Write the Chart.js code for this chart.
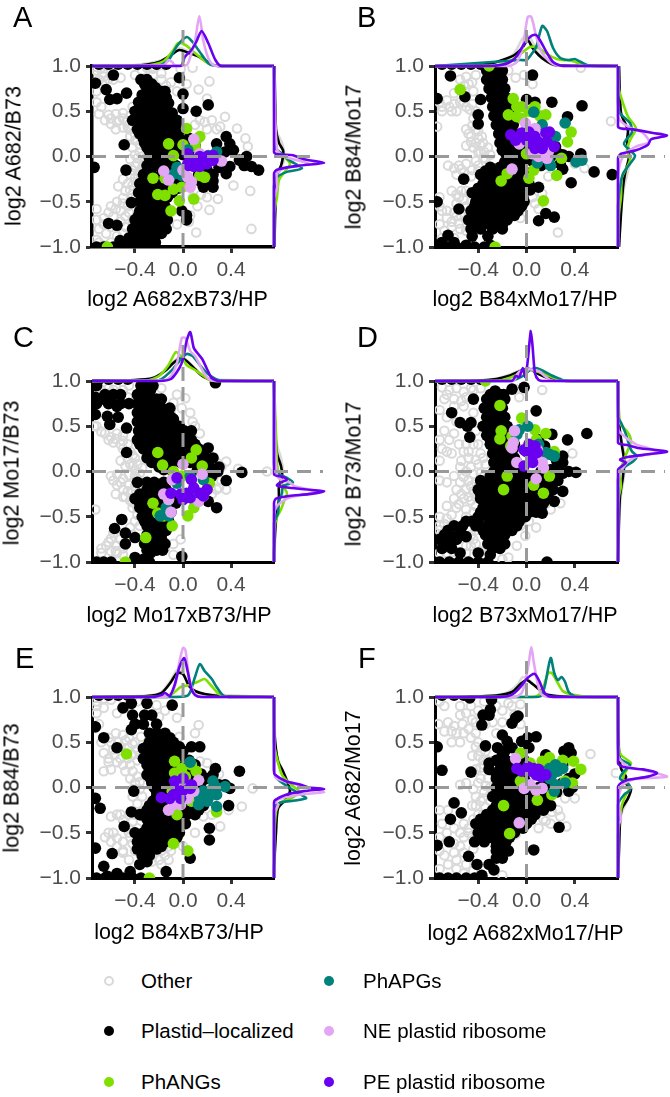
<!DOCTYPE html>
<html>
<head>
<meta charset="utf-8">
<title>log2 ratios</title>
<script src="https://cdn.jsdelivr.net/npm/chart.js@4"></script>
<style>
html, body { margin: 0; padding: 0; background: #fff; }
#page { position: relative; width: 670px; height: 1097px; overflow: hidden; font-family: "Liberation Sans", sans-serif; }
canvas { position: absolute; }
.lab { position: absolute; white-space: nowrap; color: #000; }
.dot { position: absolute; border-radius: 50%; box-sizing: border-box; }
</style>
</head>
<body>
<div id="page"></div>
<script>
const letters = ["A", "B", "C", "D", "E", "F"];
const xTitles = ["log2 A682xB73/HP", "log2 B84xMo17/HP", "log2 Mo17xB73/HP", "log2 B73xMo17/HP", "log2 B84xB73/HP", "log2 A682xMo17/HP"];
const yTitles = ["log2 A682/B73", "log2 B84/Mo17", "log2 Mo17/B73", "log2 B73/Mo17", "log2 B84/B73", "log2 A682/Mo17"];
const groups = ["Other", "Plastid\u2013localized", "PhANGs", "PhAPGs", "NE plastid ribosome", "PE plastid ribosome"];
const xTicks = [-0.4, 0, 0.4];
const yTicks = [-1, -0.5, 0, 0.5, 1];

// panel A
const otherA = [[-.72,.95],[-.66,.92],[-.6,.95],[-.7,.85],[-.65,.83],[-.58,.85],[-.52,.87],[-.72,.72],[-.68,.55],[-.7,.47],[-.65,.4],[-.6,.42],[-.56,.47],[-.5,.48],[-.53,.4],[-.47,.38],[-.5,.32],[-.44,.45],[-.42,.55],[-.45,.3],[-.4,.25],[-.44,.22],[-.38,.18],[-.42,.1],[-.36,.05],[-.4,.02],[-.44,-.03],[-.38,-.08],[-.42,-.15],[-.36,-.18],[-.4,-.24],[-.5,-.25],[-.46,-.3],[-.42,-.32],[-.54,-.33],[-.48,-.38],[-.42,-.42],[-.5,-.46],[-.55,-.5],[-.46,-.55],[-.6,-.55],[-.52,-.6],[-.45,-.62],[-.72,-.58],[-.66,-.68],[-.58,-.66],[-.52,-.72],[-.7,-.8],[-.64,-.85],[-.72,-.92],[-.6,-.95],[-.55,-.88],[-.48,-.78],[-.42,-.7],[-.3,.98],[-.18,.92],[-.1,.82],[-.05,.72],[-.25,.9],[-.02,.97],[.08,.98],[.03,.8],[.22,.83],[.13,.74],[.2,.64],[.14,.4],[.35,.44],[.31,.33],[.45,.31],[.52,.2],[.54,.11],[.28,.3],[.42,-.32],[.56,-.38],[.2,-.45],[.29,-.47],[.22,-.59],[.11,-.84],[.57,-.8],[.05,-.72],[.12,-.55],[-.05,-.75],[-.6,.36],[-.56,.3],[-.62,.46],[-.55,.38],[-.5,.42],[-.46,.33],[-.42,.34],[-.4,.18],[-.36,.13],[-.34,0],[-.32,-.05],[-.3,-.1],[-.34,-.12],[-.38,-.02],[-.4,-.1],[-.44,-.2],[-.38,-.28],[-.44,-.37],[-.4,-.47],[-.5,-.52],[-.56,-.58],[-.48,-.66],[-.42,-.76],[-.66,-.75],[-.6,-.78],[-.62,-.62],[-.56,-.75],[-.5,-.85],[-.72,-.7],[-.7,-.95],[-.66,-.98],[-.74,.9],[-.68,.98],[-.72,.6],[-.66,.88],[-.62,.86],[-.4,.9],[-.34,.95],[-.25,.97],[-.18,.85],[-.14,.78],[.1,.35],[.18,.38],[.24,.4],[.2,.3],[.06,-.65],[.08,-.45],[.15,-.42]];
const plastidA = [[-.58,.9],[-.73,.81],[-.64,.74],[-.61,.63],[-.55,.64],[-.47,.7],[-.03,.87],[0,.69],[.21,.57],[.11,.5],[0,.53],[-.49,.13],[-.475,-.15],[-.74,-.12],[-.43,-.51],[-.62,-.74],[-.55,-.76],[-.41,-.84],[-.525,-.93],[-.3,.85],[-.35,.85],[-.3,.75],[-.23,.76],[-.15,.72],[-.34,.68],[-.26,.68],[-.16,.68],[-.37,.6],[-.28,.6],[-.2,.6],[-.12,.59],[-.4,.5],[-.32,.5],[-.25,.5],[-.17,.5],[-.09,.48],[-.42,.4],[-.34,.4],[-.27,.4],[-.2,.4],[-.12,.4],[-.05,.4],[-.38,.3],[-.3,.3],[-.23,.3],[-.16,.3],[-.08,.3],[-.02,.3],[-.33,.2],[-.25,.2],[-.18,.2],[-.1,.2],[-.03,.2],[.05,.2],[-.3,.1],[-.22,.1],[-.14,.1],[-.06,.1],[-.24,.02],[-.16,.02],[-.08,.02],[.36,.22],[.28,.14],[.39,.14],[.42,.07],[.53,0],[.47,-.04],[.57,-.11],[.63,-.15],[.51,-.1],[.39,-.11],[.36,-.19],[.3,-.12],[.25,-.34],[.17,-.34],[.25,-.2],[-.33,-.2],[-.26,-.2],[-.18,-.2],[-.1,-.2],[-.02,-.2],[-.36,-.3],[-.29,-.3],[-.22,-.3],[-.15,-.3],[-.07,-.3],[.02,-.3],[-.37,-.4],[-.3,-.4],[-.23,-.4],[-.16,-.4],[-.09,-.4],[-.36,-.5],[-.3,-.5],[-.24,-.5],[-.17,-.5],[-.36,-.6],[-.3,-.6],[-.24,-.6],[-.18,-.6],[-.01,-.6],[-.4,-.7],[-.33,-.7],[-.27,-.7],[-.2,-.7],[-.13,-.7],[.03,-.7],[.03,-.65],[-.42,-.8],[-.35,-.8],[-.28,-.8],[-.21,-.8],[-.14,-.8],[-.45,-.9],[-.38,-.9],[-.3,-.9],[-.24,-.9],[-.72,-1],[-.66,-1],[-.58,-1],[-.5,-1],[-.42,-1],[-.35,-1],[-.28,-1],[-.7,1.02],[-.62,1.02],[-.54,1.02],[-.46,1.02],[-.38,1.02],[-.3,1.02],[-.22,1.02],[-.14,1.02],[-.36,.45],[-.28,.45],[-.21,.45],[-.13,.45],[-.34,.35],[-.26,.35],[-.19,.35],[-.12,.35],[-.05,.35],[-.36,.25],[-.28,.25],[-.21,.25],[-.14,.25],[-.06,.25],[-.32,.15],[-.26,.15],[-.18,.15],[-.1,.15],[-.02,.15],[-.28,.06],[-.2,.06],[-.12,.06],[-.04,.06],[-.33,.55],[-.24,.55],[-.16,.55],[-.3,.65],[-.21,.65],[-.14,.65],[-.27,.72],[-.19,.72],[-.32,.8],[-.26,.8],[-.28,-.02],[-.2,-.02],[-.12,-.02],[-.3,-.1],[-.22,-.1],[-.14,-.1],[-.06,-.1],[-.28,-.25],[-.32,-.25],[-.22,-.25],[-.14,-.25],[-.06,-.25],[0,-.25],[-.33,-.35],[-.26,-.35],[-.19,-.35],[-.12,-.35],[-.04,-.35],[-.33,-.45],[-.27,-.45],[-.2,-.45],[-.13,-.45],[-.33,-.55],[-.27,-.55],[-.21,-.55],[-.15,-.55],[-.37,-.65],[-.3,-.65],[-.23,-.65],[-.16,-.65],[-.38,-.75],[-.31,-.75],[-.24,-.75],[-.17,-.75],[-.4,-.85],[-.32,-.85],[-.26,-.85],[-.18,-.85],[-.45,-.95],[-.38,-.95],[-.3,-.95],[-.23,-.95],[.1,.05],[.3,0],[.35,.05],[.32,-.08],[.2,-.15],[.13,-.2],[.25,-.27],[.15,-.28],[.2,-.3],[.1,.12],[.06,.12],[0,.02],[.06,.02]];
const phangsA = [[.03,.31],[-.12,.14],[.14,.22],[0,.13],[-.08,.01],[-.25,-.24],[-.21,-.42],[-.15,-.43],[-.03,-.49],[.09,-.47],[-.1,-.6],[-.08,-.36],[.18,-.23],[.1,.11],[-.63,-1],[.11,.18],[-.15,-.24],[-.01,-.34],[.14,-.21]];
const phapgsA = [[-.02,-.15],[-.07,-.19],[-.11,-.23],[-.05,-.12],[.04,.07],[.28,.05],[.21,.01],[-.01,-.21]];
const neA = [[.09,.19],[-.16,-.16],[-.12,-.26],[.04,-.23],[.06,-.34],[.14,.03],[.32,-.05],[0,-.15],[.07,-.28]];
const peA = [[.04,.03],[.04,-.08],[.09,-.11],[.14,-.11],[.2,-.08],[.25,-.04],[.14,0],[.2,0],[.25,.01],[.09,-.04],[.17,-.04],[.05,-.1]];

// panel B
const otherB = [[-.55,.85],[-.5,.88],[-.45,.82],[-.42,.9],[-.72,.6],[-.66,.62],[-.6,.58],[-.55,.6],[-.5,.55],[-.45,.58],[-.42,.5],[-.7,.5],[-.62,.5],[-.74,.33],[-.5,.3],[-.45,.34],[-.4,.28],[-.46,.22],[-.42,.15],[-.37,.22],[-.5,.12],[-.44,.1],[-.38,.12],[-.4,.05],[-.35,.05],[-.36,-.02],[-.65,-.1],[-.6,-.13],[-.58,-.2],[-.54,-.14],[-.5,-.08],[-.45,-.15],[-.42,-.05],[-.62,-.38],[-.56,-.45],[-.5,-.38],[-.46,-.5],[-.58,-.52],[-.72,-.45],[-.7,-.6],[-.72,-.75],[-.68,-.82],[-.66,-.68],[-.62,-.72],[-.58,-.66],[-.55,-.8],[-.5,-.7],[-.6,-.9],[-.09,.87],[-.15,.95],[-.02,.9],[.45,.98],[.7,.39],[.26,-.84],[.4,-.08],[.48,-.13],[.07,-.52],[.13,-.41],[.18,-.22],[.14,.14],[.05,-.45],[.1,-.58],[-.05,-.68],[.28,-.03],[.05,.8],[-.7,.55],[-.64,.55],[-.58,.5],[-.52,.6],[-.47,.52],[-.44,.42],[-.42,.3],[-.48,.25],[-.46,.16],[-.4,.2],[-.36,.15],[-.38,.05],[-.32,.1],[-.34,-.02],[-.3,.02],[-.4,-.1],[-.56,-.1],[-.52,-.18],[-.46,-.22],[-.4,-.16],[-.58,-.42],[-.52,-.48],[-.5,-.55],[-.54,-.38],[-.66,-.6],[-.6,-.62],[-.54,-.66],[-.62,-.78],[-.56,-.74],[-.5,-.82],[-.72,-.55],[-.7,-.9],[-.6,.7],[-.48,.8],[-.52,.78],[-.44,.72]];
const plastidB = [[.05,.9],[-.63,.89],[-.74,.64],[-.51,.66],[-.38,.63],[-.4,.46],[-.4,.36],[.21,.6],[.46,.56],[.34,.44],[0,.63],[.07,.6],[-.52,-.25],[-.74,-.5],[-.56,-.58],[.1,-.71],[.16,-.63],[.23,-.67],[.37,-.29],[.56,-.17],[.71,-.2],[.45,.03],[.3,-.14],[-.65,-.87],[.03,-.37],[.1,-.34],[.35,0],[.24,.11],[-.33,.95],[-.27,.95],[-.2,.95],[-.33,.85],[-.27,.85],[-.2,.85],[-.31,.75],[-.25,.75],[-.18,.75],[-.29,.65],[-.23,.65],[-.17,.65],[-.28,.55],[-.21,.55],[-.15,.55],[-.27,.45],[-.2,.45],[-.13,.45],[-.25,.35],[-.18,.35],[-.11,.35],[-.23,.25],[-.16,.25],[-.1,.25],[-.22,.15],[-.14,.15],[-.07,.15],[-.2,.07],[-.12,.07],[-.05,.07],[.02,.07],[-.15,0],[-.08,0],[0,0],[-.3,-.12],[-.22,-.12],[-.15,-.12],[-.07,-.12],[-.38,-.2],[-.3,-.2],[-.22,-.2],[-.14,-.2],[-.06,-.2],[-.36,-.3],[-.28,-.3],[-.2,-.3],[-.12,-.3],[-.04,-.3],[.02,-.3],[-.45,-.4],[-.38,-.4],[-.3,-.4],[-.22,-.4],[-.14,-.4],[-.06,-.4],[-.42,-.5],[-.33,-.5],[-.25,-.5],[-.17,-.5],[-.09,-.5],[-.02,-.5],[-.46,-.6],[-.38,-.6],[-.3,-.6],[-.22,-.6],[-.14,-.6],[-.07,-.6],[-.48,-.7],[-.4,-.7],[-.32,-.7],[-.24,-.7],[-.16,-.7],[-.46,-.8],[-.38,-.8],[-.28,-.8],[-.2,-.8],[-.72,-1],[-.65,-1],[-.58,-1],[-.5,-.98],[-.43,-1],[-.35,-1],[-.3,-.98],[.15,-.02],[.2,0],[.25,.05],[.3,.02],[.28,-.08],[.12,-.1],[.05,-.05],[-.7,1.02],[-.62,1.02],[-.54,1.02],[-.46,1.02],[-.38,1.02],[-.3,1.02],[-.22,1.02],[-.3,.9],[-.23,.9],[-.3,.8],[-.23,.8],[-.28,.7],[-.21,.7],[-.26,.6],[-.19,.6],[-.24,.5],[-.17,.5],[-.22,.4],[-.15,.4],[-.2,.3],[-.13,.3],[-.18,.2],[-.12,.2],[-.16,.11],[-.09,.11],[-.17,.03],[-.1,.03],[-.03,.03],[-.18,-.06],[-.1,-.06],[-.03,-.06],[-.34,-.16],[-.26,-.16],[-.18,-.16],[-.1,-.16],[-.02,-.16],[-.33,-.25],[-.25,-.25],[-.17,-.25],[-.09,-.25],[-.01,-.25],[-.4,-.35],[-.32,-.35],[-.24,-.35],[-.16,-.35],[-.08,-.35],[-.01,-.35],[-.4,-.45],[-.34,-.45],[-.26,-.45],[-.18,-.45],[-.1,-.45],[-.03,-.45],[-.43,-.55],[-.35,-.55],[-.27,-.55],[-.19,-.55],[-.11,-.55],[-.04,-.55],[-.42,-.65],[-.34,-.65],[-.26,-.65],[-.18,-.65],[-.1,-.65],[-.44,-.75],[-.36,-.75],[-.28,-.75],[-.2,-.75],[-.7,-.95],[-.6,-.95],[-.45,-.88],[-.32,-.88]];
const phangsB = [[-.55,.74],[-.31,1],[-.11,.64],[-.15,.46],[-.08,.44],[-.04,.55],[.07,.55],[.16,.46],[.02,.5],[.37,.27],[.34,.16],[.25,-.21],[.14,-.49],[.02,-.24],[.06,-.15],[-.21,-.27],[-.16,-.19],[.29,-.02],[-.26,-1],[0,.03],[-.08,.55],[.11,.45],[-.04,.42]];
const phapgsB = [[.06,.49],[.32,.37],[.13,.35],[.24,.22],[.09,-.07],[.2,-.1],[.41,-.06],[.46,-.04],[.18,-.04]];
const neB = [[-.12,-.14],[-.01,.37],[.07,.31],[.05,.03],[.1,0],[.17,-.02],[-.06,.14],[.18,.05]];
const peB = [[-.13,.24],[-.09,.18],[-.04,.26],[.02,.27],[.07,.22],[.05,.14],[.1,.16],[.16,.26],[.17,.16],[.23,.11],[0,.18],[.07,.09],[.13,.09],[.19,.27]];

// panel C
const otherC = [[-.72,.95],[-.68,.9],[-.62,.92],[-.56,.95],[-.5,.9],[-.7,.84],[-.45,.95],[-.46,.82],[-.72,.5],[-.65,.42],[-.6,.38],[-.55,.42],[-.5,.4],[-.58,.32],[-.52,.3],[-.5,.25],[-.46,.14],[-.42,.18],[-.52,.12],[-.48,.06],[-.42,.06],[-.38,.08],[-.6,-.05],[-.55,-.03],[-.5,-.08],[-.45,-.04],[-.4,-.05],[-.55,-.15],[-.5,-.2],[-.45,-.15],[-.42,-.22],[-.38,-.08],[-.56,-.25],[-.48,-.28],[-.44,-.32],[-.42,-.4],[-.38,-.48],[-.36,-.38],[-.73,-.42],[-.58,-.68],[-.62,-.78],[-.68,-.85],[-.6,-.88],[-.55,-.82],[-.52,-.75],[-.44,-.62],[-.5,-.92],[.02,.81],[-.18,.92],[-.2,.68],[-.08,.76],[-.05,.85],[.06,.65],[-.01,.7],[-.1,.68],[.36,.11],[.32,.05],[.46,.03],[.7,0],[.28,-.2],[.36,-.2],[-.08,-.92],[-.02,-.75],[-.08,-.8],[-.15,-.85],[-.7,.92],[-.64,.95],[-.58,.9],[-.74,.5],[-.68,.44],[-.62,.35],[-.56,.36],[-.5,.34],[-.46,.3],[-.44,.22],[-.4,.15],[-.44,.08],[-.4,.02],[-.36,-.02],[-.34,.04],[-.52,-.12],[-.46,-.22],[-.4,-.16],[-.58,-.1],[-.5,-.28],[-.4,-.28],[-.42,-.34],[-.38,-.4],[-.4,-.55],[-.36,-.6],[-.42,-.7],[-.56,-.88],[-.64,-.82],[-.6,-.74],[-.55,-.9],[-.68,-.9],[-.5,-.85],[.1,.5],[.14,.42],[.08,.55],[.2,.1],[.28,.1],[.32,-.1],[.3,-.18],[.24,-.25]];
const plastidC = [[-.72,.95],[-.35,.95],[-.3,.95],[-.25,.95],[-.65,.85],[-.58,.85],[-.52,.85],[-.38,.85],[-.3,.85],[-.22,.8],[-.72,.75],[-.62,.75],[-.52,.75],[-.45,.75],[-.38,.75],[-.3,.75],[-.22,.75],[-.15,.68],[-.61,.52],[-.73,.63],[-.63,.61],[-.54,.6],[-.47,.48],[-.38,.65],[-.3,.65],[-.22,.65],[-.14,.65],[-.08,.58],[-.38,.55],[-.3,.55],[-.22,.55],[-.14,.55],[-.07,.52],[-.37,.45],[-.3,.45],[-.23,.45],[-.15,.45],[-.07,.45],[.01,.45],[.07,.45],[-.38,.35],[-.3,.35],[-.23,.35],[-.15,.35],[-.08,.35],[0,.35],[.07,.35],[-.47,.21],[-.33,.25],[-.25,.25],[-.17,.25],[-.09,.25],[-.01,.25],[.06,.25],[.13,.25],[.21,.26],[-.3,.15],[-.22,.15],[-.14,.15],[-.06,.15],[.02,.15],[.1,.15],[.18,.15],[.25,.15],[-.2,.05],[-.13,.05],[.15,.05],[.22,.05],[.3,.05],[.49,-.01],[.36,-.1],[.29,0],[.24,-.05],[-.38,-.12],[-.3,-.2],[-.22,-.2],[-.14,-.2],[-.4,-.3],[-.33,-.3],[-.26,-.3],[-.18,-.3],[-.1,-.3],[-.36,-.4],[-.29,-.4],[-.22,-.4],[-.15,-.4],[-.34,-.5],[-.28,-.5],[-.2,-.5],[-.14,-.5],[-.3,-.6],[-.24,-.6],[-.17,-.6],[-.57,-.63],[-.51,-.53],[-.48,-.68],[-.48,-.8],[-.4,-.73],[-.3,-.7],[-.23,-.7],[-.18,-.7],[-.32,-.8],[-.26,-.8],[-.2,-.8],[-.15,-.8],[-.4,-.95],[-.33,-.97],[-.27,-.9],[-.01,-.94],[.21,-.33],[.28,-.4],[.27,.98],[-.72,-1],[-.66,-1],[-.6,-1],[-.35,-1],[-.28,-1],[-.73,.82],[-.7,1.02],[-.62,1.02],[-.54,1.02],[-.46,1.02],[-.34,.9],[-.27,.9],[-.6,.8],[-.34,.8],[-.26,.8],[-.18,.8],[-.34,.7],[-.26,.7],[-.18,.7],[-.11,.7],[-.34,.6],[-.26,.6],[-.18,.6],[-.1,.6],[-.34,.5],[-.26,.5],[-.18,.5],[-.1,.5],[-.03,.5],[-.34,.4],[-.26,.4],[-.19,.4],[-.11,.4],[-.03,.4],[.04,.4],[-.36,.3],[-.28,.3],[-.2,.3],[-.12,.3],[-.04,.3],[.03,.3],[.1,.3],[-.28,.2],[-.2,.2],[-.13,.2],[-.05,.2],[.03,.2],[.1,.2],[.17,.2],[-.26,.1],[-.18,.1],[-.1,.1],[-.02,.1],[.06,.1],[.14,.1],[.21,.1],[-.16,.02],[-.1,.02],[.12,.02],[.18,.02],[.26,.02],[-.36,-.25],[-.28,-.25],[-.2,-.25],[-.12,-.25],[-.36,-.35],[-.29,-.35],[-.22,-.35],[-.14,-.35],[-.06,-.35],[-.32,-.45],[-.24,-.45],[-.17,-.45],[-.1,-.45],[-.32,-.55],[-.24,-.55],[-.17,-.55],[-.12,-.55],[-.27,-.65],[-.2,-.65],[-.14,-.65],[-.3,-.75],[-.24,-.75],[-.18,-.75],[-.3,-.87],[-.22,-.87],[-.17,-.87],[-.3,-.12],[-.24,-.12],[-.16,-.12],[-.68,.8],[-.55,.72]];
const phangsC = [[-.21,.21],[-.17,.07],[.11,.24],[.07,.15],[.16,.06],[-.08,0],[.22,-.13],[-.25,-.35],[-.21,-.46],[-.09,-.6],[.04,-.49],[.09,-.4],[-.31,-.73],[-.48,-1],[-.16,-.49],[-.01,-.05],[.2,-.2]];
const phapgsC = [[-.19,-.49],[-.12,-.49],[-.05,-.13],[.06,-.05],[-.14,-.4],[.17,-.09]];
const neC = [[0,.08],[-.09,-.09],[.16,-.03],[-.16,-.25],[-.12,-.31],[-.1,-.45],[.13,-.33],[.17,-.27]];
const peC = [[-.05,-.07],[.07,-.09],[-.1,-.24],[-.02,-.25],[.03,-.24],[.09,-.18],[.14,-.24],[.2,-.2],[.17,-.27],[.06,-.29],[0,-.31]];

// panel D
const otherD = [[-.7,.93],[-.64,.9],[-.58,.92],[-.52,.88],[-.46,.92],[-.68,.8],[-.6,.8],[-.54,.78],[-.72,.68],[-.66,.6],[-.58,.55],[-.68,.45],[-.6,.42],[-.64,.35],[-.56,.3],[-.7,.25],[-.62,.2],[-.52,.22],[-.48,.15],[-.42,.13],[-.46,.05],[-.4,.08],[-.55,.05],[-.5,0],[-.44,-.03],[-.38,-.02],[-.6,-.05],[-.55,-.12],[-.48,-.1],[-.42,-.12],[-.58,-.2],[-.5,-.2],[-.44,-.22],[-.6,-.3],[-.52,-.3],[-.46,-.32],[-.66,-.38],[-.58,-.4],[-.5,-.42],[-.44,-.45],[-.72,-.5],[-.66,-.52],[-.72,-.65],[-.72,-.9],[-.6,-.92],[-.5,-.82],[-.46,-.7],[-.42,-.8],[-.38,-.88],[.13,.9],[-.09,.91],[-.06,.82],[.38,.2],[.2,-.42],[.08,-.62],[-.01,-.71],[-.08,-.82],[.16,-.36],[-.15,-.95],[-.05,-.6],[.02,-.55],[-.2,-.97],[.28,-.35],[-.66,.85],[-.6,.72],[-.52,.72],[-.5,.82],[-.44,.65],[-.42,.45],[-.4,.3],[-.5,.3],[-.44,.3],[-.38,.2],[-.54,.12],[-.48,.22],[-.36,.15],[-.34,.08],[-.36,-.06],[-.52,-.06],[-.46,-.16],[-.4,-.18],[-.54,-.25],[-.48,-.28],[-.42,-.28],[-.42,-.38],[-.56,-.36],[-.5,-.5],[-.62,-.48],[-.72,-.6],[-.68,-.58],[-.7,-.7],[-.66,-.9],[-.5,-.9],[-.46,-.82],[-.44,-.75],[-.42,-.65],[-.36,-.92],[-.6,-.98],[-.44,.9],[-.38,.92],[-.72,.35],[-.66,.22],[-.72,.12],[-.72,-.1],[-.66,-.12]];
const plastidD = [[-.62,.65],[-.44,.8],[-.55,.54],[-.46,.54],[-.47,.38],[-.49,.5],[-.02,.93],[.08,.67],[.34,.35],[.5,.42],[.21,.41],[.3,.17],[.41,-.01],[.3,-.22],[.23,-.33],[.13,-.46],[-.4,-.9],[-.3,-.92],[.17,-1],[-.26,.89],[-.19,.85],[-.12,.91],[-.33,.8],[-.26,.8],[-.18,.8],[-.35,.7],[-.28,.7],[-.2,.7],[-.33,.6],[-.26,.6],[-.18,.6],[-.36,.5],[-.3,.5],[-.23,.5],[-.16,.5],[-.33,.4],[-.26,.4],[-.2,.4],[-.3,.3],[-.24,.3],[-.17,.3],[-.28,.2],[-.2,.2],[-.13,.2],[-.27,.1],[-.2,.1],[-.13,.1],[-.27,0],[-.2,0],[-.13,0],[-.06,0],[-.38,-.1],[-.3,-.1],[-.22,-.1],[-.14,-.1],[-.06,-.1],[.02,-.1],[.1,-.1],[.18,-.1],[.26,-.1],[-.4,-.2],[-.32,-.2],[-.24,-.2],[-.16,-.2],[-.08,-.2],[0,-.2],[.08,-.2],[.16,-.2],[.22,-.2],[-.38,-.3],[-.3,-.3],[-.22,-.3],[-.14,-.3],[-.06,-.3],[.02,-.3],[.1,-.3],[.17,-.3],[-.36,-.4],[-.28,-.4],[-.2,-.4],[-.12,-.4],[-.04,-.4],[.04,-.4],[.12,-.4],[-.4,-.5],[-.32,-.5],[-.24,-.5],[-.16,-.5],[-.08,-.5],[-.01,-.5],[-.42,-.6],[-.32,-.6],[-.24,-.6],[-.16,-.6],[-.08,-.6],[-.34,-.7],[-.26,-.7],[-.18,-.7],[-.32,-.8],[-.24,-.8],[-.18,-.8],[-.6,-.6],[-.65,-.65],[-.55,-.65],[-.5,-.55],[-.53,-.6],[-.72,-.75],[-.65,-.78],[-.58,-.75],[-.5,-.72],[-.7,-.85],[-.62,-.85],[-.55,-.9],[-.45,-.55],[-.72,-1],[-.64,-1],[-.56,-1],[-.48,-1],[-.4,-1],[-.32,-1],[.12,0],[.2,.02],[.25,.05],[.3,-.02],[.35,0],[.15,-.07],[.25,.12],[.3,.1],[.22,.18],[.1,-.08],[.05,-.08],[.15,.28],[.2,.2],[.1,.35],[-.1,.3],[-.15,.2],[-.08,.1],[-.05,0],[-.7,1.02],[-.62,1.02],[-.54,1.02],[-.46,1.02],[-.38,1.02],[-.3,.85],[-.22,.85],[-.3,.75],[-.24,.75],[-.3,.65],[-.22,.65],[-.3,.55],[-.22,.55],[-.32,.45],[-.25,.45],[-.18,.45],[-.3,.35],[-.22,.35],[-.15,.35],[-.26,.25],[-.18,.25],[-.11,.25],[-.25,.15],[-.17,.15],[-.1,.15],[-.24,.05],[-.17,.05],[-.1,.05],[-.04,.05],[-.3,-.05],[-.22,-.05],[-.15,-.05],[-.08,-.05],[-.01,-.05],[.06,-.05],[.14,-.05],[.22,-.05],[-.36,-.15],[-.28,-.15],[-.2,-.15],[-.12,-.15],[-.04,-.15],[.04,-.15],[.12,-.15],[.2,-.15],[-.38,-.25],[-.3,-.25],[-.22,-.25],[-.14,-.25],[-.06,-.25],[.02,-.25],[.1,-.25],[.18,-.25],[-.34,-.35],[-.26,-.35],[-.18,-.35],[-.1,-.35],[-.02,-.35],[.06,-.35],[.14,-.35],[-.38,-.45],[-.3,-.45],[-.22,-.45],[-.14,-.45],[-.06,-.45],[.02,-.45],[.08,-.45],[-.4,-.55],[-.3,-.55],[-.22,-.55],[-.14,-.55],[-.06,-.55],[-.36,-.65],[-.28,-.65],[-.2,-.65],[-.12,-.65],[-.3,-.75],[-.22,-.75],[-.28,-.85],[-.22,-.85],[-.68,-.7],[-.62,-.72],[-.56,-.7]];
const phangsD = [[-.34,1],[-.22,.73],[-.04,.59],[-.21,.45],[-.22,.36],[.16,.42],[.07,.46],[.08,.35],[-.13,.28],[-.16,-.05],[-.19,-.2],[.14,-.24],[.06,-.15],[.19,-.05],[.23,.22],[-.12,.39]];
const phapgsD = [[-.06,.46],[.01,.5],[.1,.3],[.16,.21],[.23,.17],[.19,.19],[-.08,.41]];
const neD = [[-.1,.45],[-.11,.32],[-.08,.1],[-.12,.26],[.08,-.08],[.13,.1],[.14,.04],[.09,.24]];
const peD = [[-.02,.24],[.02,.3],[.06,.26],[.09,.21],[.05,.17],[-.02,.06],[.05,.1],[0,.22],[.07,.28]];

// panel E
const otherE = [[-.72,.95],[-.66,.98],[-.6,.97],[-.55,.82],[-.72,.82],[-.7,.7],[-.62,.55],[-.56,.6],[-.5,.58],[-.45,.55],[-.4,.5],[-.35,.56],[-.66,.38],[-.62,.32],[-.57,.36],[-.52,.45],[-.46,.44],[-.42,.36],[-.38,.3],[-.55,.28],[-.5,.25],[-.44,.25],[-.66,.18],[-.6,.2],[-.42,.18],[-.38,.12],[-.36,.06],[-.42,-.1],[-.38,-.18],[-.36,-.02],[-.45,-.3],[-.55,-.3],[-.6,-.32],[-.5,-.36],[-.45,-.45],[-.65,-.55],[-.6,-.6],[-.55,-.65],[-.5,-.6],[-.45,-.5],[-.4,-.7],[-.35,-.75],[-.3,-.7],[-.2,-.65],[-.25,-.75],[-.2,-.8],[-.15,-.75],[-.1,-.7],[-.08,-.6],[0,-.65],[-.5,-.72],[-.45,-.8],[.13,.69],[.1,.6],[-.03,.56],[-.05,.77],[-.22,.91],[-.15,.85],[-.2,.78],[.2,.27],[.14,.29],[.49,-.21],[.58,-.01],[.31,-.43],[.17,-.32],[.24,-.3],[.3,.15],[.38,-.25],[.1,-.5],[-.68,.5],[-.6,.5],[-.54,.5],[-.48,.52],[-.42,.48],[-.38,.42],[-.36,.36],[-.58,.42],[-.62,.28],[-.46,.32],[-.52,.32],[-.48,.18],[-.44,.1],[-.4,.05],[-.42,-.02],[-.34,-.1],[-.4,-.3],[-.52,-.3],[-.42,-.38],[-.44,-.55],[-.38,-.45],[-.58,-.5],[-.62,-.5],[-.55,-.56],[-.5,-.7],[-.42,-.62],[-.36,-.62],[-.3,-.62],[-.35,-.68],[-.25,-.65],[-.18,-.7],[-.12,-.65],[-.18,-.85],[-.26,-.82],[-.12,-.8],[-.72,.9],[-.66,.88],[-.5,.98],[-.45,.9],[-.38,.95]];
const plastidE = [[-.5,.88],[-.43,.93],[-.3,.93],[-.09,.91],[-.42,.8],[-.32,.8],[-.26,.8],[-.4,.7],[-.33,.7],[-.22,.7],[-.43,.64],[-.66,.55],[-.55,.44],[-.73,.67],[.14,.45],[.07,.45],[.27,.21],[.47,.18],[.25,.14],[.38,-.2],[.39,-.01],[.22,-.45],[.22,-.58],[.06,-.78],[-.41,-.04],[-.69,-.23],[-.73,-.12],[-.49,-.43],[-.73,-.67],[-.59,-.73],[-.66,-.87],[-.14,-.93],[-.28,.6],[-.22,.6],[-.15,.6],[-.28,.5],[-.22,.5],[-.15,.5],[-.08,.5],[-.33,.43],[-.27,.4],[-.2,.4],[-.13,.4],[-.06,.4],[0,.4],[-.3,.3],[-.25,.3],[-.18,.3],[-.11,.3],[-.04,.3],[-.33,.32],[-.28,.2],[-.22,.2],[-.15,.2],[-.08,.2],[-.3,.14],[-.27,.1],[-.2,.1],[-.13,.1],[-.06,.1],[-.24,0],[-.17,0],[-.1,0],[-.03,0],[-.22,-.1],[-.15,-.1],[-.08,-.1],[0,-.1],[-.28,-.2],[-.2,-.2],[-.13,-.2],[-.06,-.2],[.02,-.2],[.1,-.2],[.17,-.2],[-.43,-.27],[-.36,-.3],[-.35,-.3],[-.27,-.3],[-.2,-.3],[-.12,-.3],[-.05,-.3],[.03,-.3],[.1,-.3],[-.27,-.4],[-.2,-.4],[-.12,-.4],[-.05,-.4],[.02,-.4],[-.4,-.5],[-.33,-.5],[-.25,-.5],[-.17,-.5],[-.1,-.5],[-.03,-.5],[-.38,-.6],[-.3,-.6],[-.22,-.6],[-.15,-.6],[-.08,-.6],[-.38,-.68],[-.3,-.68],[-.22,-.68],[-.3,-.82],[-.36,-.85],[-.44,-.93],[-.55,-.95],[-.63,-.98],[-.72,-1],[-.65,-1],[-.58,-1],[-.5,-1],[-.42,-1],[-.35,-1],[.1,.1],[.15,.05],[.2,.1],[.3,.03],[.35,.03],[.25,-.02],[.05,.2],[.1,.25],[.05,.3],[0,.3],[.15,.15],[-.7,1.02],[-.62,1.02],[-.54,1.02],[-.46,1.02],[-.25,.55],[-.18,.55],[-.11,.55],[-.3,.45],[-.24,.45],[-.17,.45],[-.1,.45],[-.03,.45],[-.28,.35],[-.22,.35],[-.14,.35],[-.07,.35],[-.3,.25],[-.25,.25],[-.18,.25],[-.11,.25],[-.05,.25],[-.28,.15],[-.23,.15],[-.16,.15],[-.09,.15],[-.02,.15],[-.26,.05],[-.18,.05],[-.11,.05],[-.04,.05],[-.22,-.05],[-.14,-.05],[-.06,-.05],[-.25,-.15],[-.17,-.15],[-.09,-.15],[-.02,-.15],[-.3,-.25],[-.22,-.25],[-.15,-.25],[-.08,-.25],[-.01,-.25],[.06,-.25],[.13,-.25],[-.3,-.35],[-.23,-.35],[-.16,-.35],[-.08,-.35],[-.01,-.35],[-.3,-.45],[-.23,-.45],[-.15,-.45],[-.08,-.45],[-.35,-.55],[-.27,-.55],[-.19,-.55],[-.11,-.55],[-.05,-.55],[-.34,-.65],[-.26,-.65],[-.18,-.65],[-.34,-.75],[-.28,-.75]];
const phangsE = [[-.47,.37],[-.07,.29],[-.01,.21],[.07,.25],[.11,.18],[-.07,.16],[.02,.12],[-.05,-.3],[-.08,-.62],[.04,-.7],[-.28,-1],[.28,-.27],[-.09,-.04],[.07,-.15]];
const phapgsE = [[.06,.28],[.25,.07],[.35,.01],[.14,-.12],[.2,-.15],[.28,-.21],[.13,-.19],[.22,-.04],[.17,-.04],[.28,-.08],[.28,0],[.21,-.12]];
const neE = [[.13,.08],[-.12,-.25],[-.02,-.19],[-.08,-.19],[.04,-.12],[.09,-.04],[0,.06]];
const peE = [[-.18,-.11],[-.11,-.12],[-.05,-.04],[-.07,.07],[0,.1],[0,-.03],[.06,-.01],[-.08,-.08],[-.02,-.12],[.07,.03]];

// panel F
const otherF = [[-.73,.7],[-.65,.72],[-.6,.68],[-.55,.8],[-.5,.82],[-.53,.7],[-.45,.75],[-.48,.65],[-.58,.6],[-.62,.5],[-.55,.5],[-.42,.6],[-.4,.85],[-.35,.95],[-.25,.9],[-.2,.85],[-.15,.93],[-.1,.8],[-.72,.95],[-.4,.5],[-.38,.4],[-.45,.35],[-.42,.2],[-.38,.1],[-.35,.25],[-.32,.1],[-.3,0],[-.35,-.05],[-.5,.05],[-.55,.03],[-.42,-.1],[-.3,-.15],[-.38,-.15],[-.45,-.2],[-.72,-.25],[-.65,-.25],[-.7,-.4],[-.6,-.45],[-.55,-.5],[-.52,-.4],[-.48,-.45],[-.45,-.55],[-.68,-.75],[-.6,-.72],[-.58,-.8],[-.55,-.65],[-.5,-.85],[-.65,-.85],[-.72,-.9],[-.52,-.95],[-.2,-.97],[.53,.37],[.32,-.12],[.21,-.27],[.26,-.25],[.33,-.43],[.1,-.45],[.02,-.38],[.16,-.37],[-.09,-.52],[.74,.16],[-.25,.6],[-.05,.7],[-.32,.3],[-.36,-.3],[-.68,.62],[-.62,.62],[-.52,.6],[-.46,.55],[-.4,.35],[-.34,.4],[-.42,.45],[-.36,.3],[-.32,.2],[-.38,.22],[-.4,.05],[-.34,.02],[-.3,-.08],[-.36,-.12],[-.44,-.02],[-.28,-.05],[-.42,-.2],[-.34,-.22],[-.3,-.28],[-.48,-.5],[-.44,-.35],[-.4,-.3],[-.52,-.55],[-.6,-.62],[-.52,-.72],[-.44,-.68],[-.66,-.5],[-.72,-.55],[-.72,-.7],[-.58,-.9],[-.44,-.92],[-.68,.9],[-.55,.9],[-.46,.9],[-.42,.72],[-.34,.7],[-.28,.72],[-.2,.72],[-.12,.9],[-.05,.92],[.14,-.35],[.2,-.4],[.28,-.32],[.4,-.12]];
const plastidF = [[-.74,.45],[-.7,.19],[-.46,.17],[-.74,-.64],[-.64,-.6],[-.6,-.17],[-.63,-.35],[-.54,-.28],[-.48,-.76],[-.41,-.85],[-.31,-.85],[-.27,-.91],[-.37,-.97],[-.47,.99],[-.29,.97],[-.37,.69],[-.3,.86],[-.36,.8],[-.31,.8],[-.12,.71],[-.07,.79],[-.09,.77],[.08,.56],[.01,.55],[-.2,.58],[-.16,.51],[-.04,.51],[-.24,.44],[-.34,.46],[.02,.44],[-.12,.44],[-.18,.4],[-.2,.36],[-.31,.27],[-.31,.2],[.27,-.44],[.06,-.69],[.35,.44],[.31,.4],[.37,.38],[.16,.36],[.35,-.04],[-.25,.3],[-.17,.3],[-.09,.3],[-.02,.3],[-.22,.2],[-.15,.2],[-.08,.2],[-.25,.1],[-.17,.1],[-.1,.1],[-.02,.1],[-.25,0],[-.18,0],[-.11,0],[-.04,0],[.03,0],[-.28,-.1],[-.2,-.1],[-.13,-.1],[-.06,-.1],[.02,-.1],[.1,-.1],[.17,-.1],[-.25,-.2],[-.18,-.2],[-.11,-.2],[-.04,-.2],[.03,-.2],[.1,-.2],[.2,-.2],[-.33,-.3],[-.26,-.3],[-.19,-.3],[-.12,-.3],[-.05,-.3],[.02,-.3],[.07,-.3],[-.42,-.4],[-.35,-.4],[-.28,-.4],[-.21,-.4],[-.14,-.4],[-.07,-.4],[0,-.4],[-.4,-.5],[-.32,-.5],[-.25,-.5],[-.18,-.5],[-.1,-.5],[-.43,-.6],[-.35,-.6],[-.25,-.6],[-.17,-.6],[-.25,-.7],[-.2,-.7],[-.15,-.7],[-.25,-.78],[-.2,-.78],[-.72,-1],[-.65,-1],[-.58,-1],[-.5,-1],[-.43,-1],[-.37,-1],[.12,.2],[.2,.25],[.3,.25],[.15,.1],[.2,.05],[.3,.05],[.35,.1],[.4,.15],[.38,0],[.1,0],[.15,-.05],[.25,-.05],[-.7,1.02],[-.6,1.02],[-.52,1.02],[-.2,.25],[-.13,.25],[-.05,.25],[-.25,.15],[-.18,.15],[-.11,.15],[-.04,.15],[-.22,.05],[-.14,.05],[-.07,.05],[0,.05],[-.23,-.05],[-.15,-.05],[-.08,-.05],[-.01,-.05],[.06,-.05],[.13,-.05],[-.23,-.15],[-.16,-.15],[-.08,-.15],[-.01,-.15],[.06,-.15],[.14,-.15],[-.28,-.25],[-.21,-.25],[-.14,-.25],[-.07,-.25],[0,-.25],[.07,-.25],[.14,-.25],[-.38,-.35],[-.3,-.35],[-.23,-.35],[-.16,-.35],[-.09,-.35],[-.02,-.35],[.04,-.35],[-.38,-.45],[-.3,-.45],[-.24,-.45],[-.17,-.45],[-.1,-.45],[-.03,-.45],[-.38,-.55],[-.3,-.55],[-.22,-.55],[-.14,-.55],[-.25,-.65],[-.18,-.65],[-.22,-.75]];
const phangsF = [[-.19,-.2],[-.14,-.51],[-.05,.38],[.13,.29],[.19,.33],[.3,.3],[.39,.29],[.45,.2],[.38,.05],[-.05,.07],[.09,-.14],[.21,-.08],[.32,.07],[.03,.27]];
const phapgsF = [[.19,.21],[.24,.25],[.3,.21],[.21,.14],[.24,.03],[.23,-.04],[.32,.05],[.26,.18],[.19,.1]];
const neF = [[-.09,.32],[-.06,-.39],[-.02,-.01],[.03,.03],[.08,-.03],[.13,-.01]];
const peF = [[-.08,.21],[-.04,.18],[.01,.23],[.06,.21],[.08,.14],[.12,.12],[.16,.14],[.04,.18],[.1,.2]];

// marginal densities, same group order as above: [value, density]
const topA = [
  [[-.76,0],[-.4,.1],[-.2,.5],[-.1,1.1],[-.03,1.8],[.05,1.4],[.14,.8],[.25,.1],[.76,0]],
  [[-.76,0],[-.4,.05],[-.3,.15],[-.2,.4],[-.1,1.1],[-.03,1.6],[.05,1.3],[.14,.9],[.25,.1],[.35,0],[.76,0]],
  [[-.76,0],[-.3,.05],[-.16,.5],[-.08,1.6],[-.04,2.3],[.02,2.1],[.08,1.5],[.14,.9],[.22,.2],[.3,0],[.76,0]],
  [[-.76,0],[-.2,.05],[-.12,.6],[-.05,2],[.03,2.9],[.08,2.4],[.14,1.4],[.22,.2],[.3,0],[.76,0]],
  [[-.76,0],[-.16,.1],[-.12,.6],[-.09,.4],[-.07,.1],[.03,.1],[.06,.9],[.1,2.5],[.136,5],[.17,2.5],[.21,.8],[.25,.1],[.3,0],[.76,0]],
  [[-.76,0],[-.02,0],[.015,.9],[.07,1.6],[.11,2.4],[.155,3.5],[.21,2.3],[.27,.6],[.32,0],[.76,0]]
];
const rightA = [
  [[1,0],[.3,.2],[.15,.8],[.05,1],[-.05,1],[-.15,.6],[-.3,.2],[-1,0]],
  [[1,.05],[.3,.2],[.15,.5],[.07,.9],[0,.9],[-.1,.7],[-.2,.3],[-.4,.2],[-.7,.1],[-1,.05]],
  [[1,0],[.1,.2],[0,1],[-.08,1.6],[-.15,1.2],[-.26,.5],[-.45,.3],[-.63,0],[-1,0]],
  [[1,0],[.1,.1],[.03,.8],[-.04,1.5],[-.13,2.8],[-.17,1.3],[-.23,.3],[-.33,0],[-1,0]],
  [[1,0],[.08,.3],[0,1],[-.06,3],[-.085,3.5],[-.13,1],[-.19,.3],[-.34,.3],[-.48,0],[-1,0]],
  [[1,0],[.05,0],[.015,1.9],[-.03,3],[-.07,5],[-.1,2.6],[-.145,.3],[-.19,0],[-1,0]]
];
const topB = [
  [[-.76,0],[-.4,.1],[-.2,.5],[-.1,1.3],[-.03,2.8],[.02,3],[.08,1.6],[.15,.6],[.22,.1],[.76,0]],
  [[-.76,0],[-.45,.05],[-.3,.25],[-.2,.6],[-.1,1.1],[-.03,1.9],[.01,2.6],[.05,1.8],[.1,1.1],[.15,.6],[.22,.15],[.3,.05],[.76,0]],
  [[-.76,0],[-.25,.05],[-.15,.4],[-.05,1.2],[.03,1.9],[.1,1.8],[.17,1.2],[.25,.7],[.3,.6],[.38,.5],[.45,.2],[.55,0],[.76,0]],
  [[-.76,0],[-.05,.6],[0,.6],[.03,1],[.08,1.9],[.13,4],[.17,3.5],[.22,1.8],[.28,.8],[.35,.6],[.4,.7],[.45,.4],[.5,.1],[.6,0],[.76,0]],
  [[-.76,0],[-.15,0],[-.08,.4],[-.03,2],[.01,4.9],[.04,4.9],[.08,3],[.12,1.5],[.17,.7],[.22,.2],[.3,0],[.76,0]],
  [[-.76,0],[-.3,0],[-.15,.3],[-.08,1],[-.02,2.2],[.04,3],[.08,3.1],[.12,2.4],[.17,1.3],[.22,.4],[.28,.05],[.35,0],[.76,0]]
];
const rightB = [
  [[1,.1],[.5,.3],[.3,.9],[.1,1],[0,1.3],[-.2,.9],[-.35,.6],[-.63,.3],[-1,.1]],
  [[1,.1],[.48,.3],[.29,1],[.18,.9],[0,1.1],[-.19,.7],[-.34,.5],[-.63,.3],[-1,.1]],
  [[1,0],[.74,.1],[.59,.5],[.44,1],[.31,1.8],[.18,1.2],[.07,.9],[-.04,1.2],[-.23,.4],[-.45,.3],[-.63,.1],[-1,0]],
  [[1,0],[.6,0],[.48,.2],[.37,1.2],[.27,1.4],[.14,.6],[.01,1.7],[-.08,1.2],[-.19,.5],[-.34,.2],[-.56,0],[-1,0]],
  [[1,0],[.44,0],[.33,1],[.26,2.5],[.16,3.1],[.11,1.8],[.03,.7],[-.08,.2],[-.23,0],[-1,0]],
  [[1,0],[.33,0],[.3,1.5],[.26,3.5],[.23,4.9],[.19,3.3],[.13,3],[.07,1.8],[.03,.3],[-.02,0],[-1,0]]
];
const topC = [
  [[-.76,0],[-.4,.1],[-.25,.35],[-.15,1],[-.08,1.9],[-.02,2.5],[.04,2],[.1,1.2],[.16,.6],[.22,.2],[.76,0]],
  [[-.76,.05],[-.4,.1],[-.25,.3],[-.15,1],[-.08,1.8],[-.02,2.3],[.03,2],[.1,1.2],[.15,.6],[.2,.25],[.3,.05],[.76,0]],
  [[-.76,0],[-.3,.05],[-.2,.5],[-.12,1.6],[-.06,2.9],[-.02,2.5],[.03,1.6],[.1,1.1],[.16,.6],[.22,.1],[.3,0],[.76,0]],
  [[-.76,0],[-.2,.1],[-.1,1],[-.03,2],[.03,2.7],[.08,2.5],[.14,1.6],[.2,.8],[.27,.2],[.33,0],[.76,0]],
  [[-.76,0],[-.15,.1],[-.1,.5],[-.05,1.8],[-.01,4.3],[.02,4.3],[.06,3],[.1,2.5],[.14,1.6],[.18,.7],[.23,.1],[.3,0],[.76,0]],
  [[-.76,0],[-.2,0],[-.1,.2],[-.03,1.3],[0,2.2],[.03,4],[.06,4.9],[.09,3.3],[.12,2.8],[.16,2.2],[.2,1.2],[.24,.3],[.3,0],[.76,0]]
];
const rightC = [
  [[1,0],[.3,.3],[.15,.7],[0,.9],[-.15,.5],[-.35,.4],[-.6,.2],[-1,0]],
  [[1,0],[.5,.1],[.2,.3],[.06,.7],[-.05,.8],[-.16,.5],[-.31,.5],[-.53,.2],[-.9,0],[-1,0]],
  [[1,0],[.1,.3],[-.05,.5],[-.16,.9],[-.24,1.3],[-.33,1],[-.42,.7],[-.53,.2],[-.72,0],[-1,0]],
  [[1,0],[.1,0],[-.01,.2],[-.07,1.3],[-.12,1.9],[-.16,.9],[-.24,.8],[-.33,.5],[-.46,.4],[-.57,0],[-1,0]],
  [[1,0],[-.05,.3],[-.13,1.7],[-.16,2],[-.22,4.2],[-.25,3.3],[-.29,1.5],[-.38,.3],[-.49,0],[-1,0]],
  [[1,0],[-.03,0],[-.06,.9],[-.09,1.3],[-.13,.5],[-.155,.3],[-.18,1.5],[-.22,5],[-.25,3.5],[-.27,1.5],[-.3,.2],[-.35,0],[-1,0]]
];
const topD = [
  [[-.76,0],[-.4,.08],[-.25,.25],[-.15,.6],[-.05,1.1],[.02,1.3],[.1,.7],[.18,.3],[.3,.05],[.76,0]],
  [[-.76,0],[-.4,.05],[-.25,.2],[-.15,.5],[-.05,1],[.02,1.2],[.1,.7],[.18,.3],[.3,.05],[.4,0],[.76,0]],
  [[-.76,0],[-.3,0],[-.2,.1],[-.1,.5],[-.03,1],[.03,1.1],[.1,.9],[.17,.6],[.25,.2],[.3,0],[.76,0]],
  [[-.76,0],[-.15,0],[-.1,.1],[-.03,.5],[.03,1.1],[.08,1.3],[.14,1],[.2,.6],[.28,.2],[.32,0],[.76,0]],
  [[-.76,0],[-.14,0],[-.1,.1],[-.07,.8],[-.04,1],[-.01,.8],[.02,1.2],[.05,1.1],[.1,1],[.15,.5],[.2,.1],[.25,0],[.76,0]],
  [[-.76,0],[-.12,0],[-.09,.5],[-.06,.4],[-.03,1.3],[-.01,.4],[.01,2],[.036,5],[.05,3.5],[.07,.8],[.1,.1],[.15,0],[.76,0]]
];
const rightD = [
  [[1,0],[.4,.2],[.28,.5],[.12,.7],[-.05,.6],[-.27,.3],[-.6,.1],[-1,0]],
  [[1,0],[.6,.05],[.28,.4],[.13,.6],[-.05,.5],[-.27,.2],[-.53,.1],[-1,0]],
  [[1,0],[.54,.2],[.43,1],[.34,1.3],[.24,1],[.13,.6],[-.02,.2],[-.16,.3],[-.27,.1],[-.45,0],[-1,0]],
  [[1,0],[.6,0],[.54,.3],[.41,.8],[.3,1.1],[.22,1.4],[.17,1.9],[.11,1.5],[.06,.8],[-.02,.1],[-.09,0],[-1,0]],
  [[1,0],[.5,0],[.43,.2],[.3,1.8],[.26,3],[.21,4],[.17,2],[.11,1],[.04,.5],[-.05,.1],[-.12,0],[-1,0]],
  [[1,0],[.32,0],[.29,1],[.26,2],[.22,4.9],[.19,3],[.16,1],[.13,.2],[.1,.8],[.06,.4],[.02,0],[-1,0]]
];
const topE = [
  [[-.76,0],[-.3,.15],[-.18,.5],[-.1,1.7],[-.05,2.7],[0,2.4],[.05,1.2],[.1,.6],[.18,.3],[.76,0]],
  [[-.76,0],[-.5,.05],[-.3,.1],[-.18,.4],[-.1,1.5],[-.05,2.4],[0,2.3],[.05,1.1],[.1,.6],[.18,.3],[.3,.1],[.76,0]],
  [[-.76,0],[-.13,0],[-.07,.5],[-.02,1],[.05,1.2],[.12,1.5],[.18,1.8],[.23,1.2],[.3,.3],[.38,0],[.76,0]],
  [[-.76,0],[-.1,0],[.03,.1],[.06,.5],[.1,2],[.14,3.3],[.18,2.6],[.24,1.8],[.28,1],[.33,.2],[.38,0],[.76,0]],
  [[-.76,0],[-.2,0],[-.12,.1],[-.07,1],[-.03,3.5],[0,4.9],[.02,4.7],[.05,2],[.08,.7],[.12,.1],[.2,0],[.76,0]],
  [[-.76,0],[-.25,0],[-.18,.2],[-.15,.4],[-.11,.1],[-.07,1.2],[-.03,3],[.01,3.9],[.04,2.5],[.07,.8],[.1,.2],[.15,0],[.76,0]]
];
const rightE = [
  [[1,0],[.4,.2],[.2,.8],[.07,1.4],[0,1.7],[-.12,1.2],[-.25,.4],[-.5,.2],[-1,0]],
  [[1,0],[.6,.05],[.29,.4],[.18,.9],[.07,1.3],[-.04,1.6],[-.13,1.2],[-.23,.4],[-.49,.2],[-.89,0],[-1,0]],
  [[1,0],[.5,0],[.32,.3],[.14,.8],[.03,1.7],[-.04,2.5],[-.1,2],[-.17,.6],[-.27,.2],[-.63,0],[-1,0]],
  [[1,0],[.2,0],[.1,.3],[0,1.5],[-.06,2.4],[-.12,3.2],[-.17,.5],[-.21,.1],[-.27,0],[-1,0]],
  [[1,0],[.12,.1],[.05,1.8],[.01,2.8],[-.015,4],[-.05,5],[-.08,2.5],[-.14,.2],[-.19,.4],[-.27,.1],[-.34,0],[-1,0]],
  [[1,0],[.18,0],[.14,.1],[.07,1.2],[.03,2.7],[0,3.5],[-.015,5],[-.04,3],[-.08,1.2],[-.14,.1],[-.17,0],[-1,0]]
];
const topF = [
  [[-.76,0],[-.3,.15],[-.15,.5],[-.07,1.3],[-.03,2],[.02,1.7],[.08,1],[.15,.3],[.25,.05],[.76,0]],
  [[-.76,0],[-.5,.03],[-.25,.15],[-.12,.5],[-.05,1.3],[0,1.7],[.05,1.3],[.1,.8],[.15,.3],[.25,.1],[.4,.02],[.76,0]],
  [[-.76,0],[.05,0],[.1,.2],[.14,1],[.18,2.4],[.21,2.4],[.25,1.6],[.3,.6],[.36,.3],[.45,.1],[.55,0],[.76,0]],
  [[-.76,0],[.08,0],[.12,.1],[.15,1],[.2,3.9],[.23,2.4],[.26,1.7],[.29,2],[.32,1.5],[.35,.5],[.4,.05],[.45,0],[.76,0]],
  [[-.76,0],[-.1,0],[-.04,.4],[-.01,1.6],[.02,3.5],[.04,5],[.06,3.5],[.09,1.5],[.12,.3],[.18,0],[.76,0]],
  [[-.76,0],[-.25,0],[-.15,.1],[-.1,.4],[-.05,1],[0,1.8],[.04,2.2],[.07,2.3],[.11,1.5],[.14,.6],[.18,.1],[.25,0],[.76,0]]
];
const rightF = [
  [[1,0],[.3,.2],[.12,.8],[0,1.2],[-.15,.9],[-.3,.3],[-.6,.1],[-1,0]],
  [[1,0],[.5,.05],[.21,.3],[.12,.8],[.06,.6],[-.01,1.3],[-.12,1],[-.23,.4],[-.38,.2],[-.7,.1],[-1,0]],
  [[1,0],[.5,0],[.36,.3],[.27,1.3],[.2,.9],[.1,.5],[.01,1.2],[-.08,.8],[-.19,.4],[-.34,.2],[-.53,0],[-1,0]],
  [[1,0],[.45,0],[.32,.2],[.25,1.2],[.18,.6],[.1,.2],[.03,1.1],[-.03,1.2],[-.08,.6],[-.19,0],[-1,0]],
  [[1,0],[.4,0],[.32,.1],[.23,1],[.18,3],[.12,4.9],[.09,1.5],[.03,.5],[-.04,.2],[-.15,0],[-.36,.3],[-.41,0],[-1,0]],
  [[1,0],[.27,0],[.22,.8],[.2,2.5],[.16,3.9],[.12,3],[.085,1],[.05,.3],[.01,0],[-1,0]]
];

const scatterData = [
  [otherA, plastidA, phangsA, phapgsA, neA, peA],
  [otherB, plastidB, phangsB, phapgsB, neB, peB],
  [otherC, plastidC, phangsC, phapgsC, neC, peC],
  [otherD, plastidD, phangsD, phapgsD, neD, peD],
  [otherE, plastidE, phangsE, phapgsE, neE, peE],
  [otherF, plastidF, phangsF, phapgsF, neF, peF]
];
const topData = [topA, topB, topC, topD, topE, topF];
const rightData = [rightA, rightB, rightC, rightD, rightE, rightF];

const colors = ["#d9d9d9", "#000000", "#7fe000", "#00827a", "#e3a6f5", "#6a00f0"];
const refColor = "#9a9a9a";
const xLimit = 0.758;

// where each panel sits on the page
const plotLeft = [92, 435, 92, 435, 92, 435];
const plotRight = [274, 618, 274, 618, 274, 618];
const plotTop = [66, 66, 381, 381, 697, 697];
const plotBottom = [247, 247, 562, 562, 878, 878];
const axisWidth = [3.5, 3, 3, 3, 3, 3];
const hLineEnd = [3.6, 4.7, 4.9, 4.7, 3.8, 4.7];
const xTitleAt = [[177.5, 298.5], [525, 299], [179, 615], [525, 615], [179, 932], [525.5, 933]];
const yTitleAt = [[14, 156], [354, 157], [12, 473], [354, 474], [12, 788], [353, 788]];
const letterAt = [[13, 1], [357, 1], [13, 321], [357, 321], [15, 642], [358, 642]];

const page = document.getElementById("page");

function addLabel(text, left, top, size, extra) {
  const el = document.createElement("div");
  el.className = "lab";
  el.textContent = text;
  el.style.left = left + "px";
  el.style.top = top + "px";
  el.style.fontSize = size + "px";
  if (extra) el.style.transform = extra;
  page.appendChild(el);
}

function addCanvas(left, top, w, h) {
  const c = document.createElement("canvas");
  c.width = w;
  c.height = h;
  c.style.left = left + "px";
  c.style.top = top + "px";
  c.style.width = w + "px";
  c.style.height = h + "px";
  page.appendChild(c);
  return c;
}

function toPoints(list) {
  return list.map(p => ({x: p[0], y: p[1]}));
}

function tickText(v, digits) {
  const s = Math.abs(v).toFixed(digits);
  return v < 0 ? "\u2212" + s : s;
}

function drawScatter(i) {
  const left = plotLeft[i], right = plotRight[i], top = plotTop[i], bottom = plotBottom[i];
  const canvas = addCanvas(left - 92, top - 20, right - left + 92 + 8, bottom - top + 20 + 42);
  const datasets = [];
  scatterData[i].forEach((pts, g) => {
    datasets.push({
      label: groups[g],
      data: toPoints(pts),
      order: 10 - g,
      clip: 0,
      showLine: false,
      pointRadius: g === 0 ? 4.3 : 5.8,
      pointHoverRadius: 0,
      pointBorderWidth: g === 0 ? 2 : 0,
      pointBorderColor: colors[g],
      pointBackgroundColor: g === 0 ? "rgba(0,0,0,0)" : colors[g]
    });
  });
  const refLines = [
    [{x: -xLimit, y: 0}, {x: xLimit, y: 0}],
    [{x: 0, y: -1}, {x: 0, y: 1}]
  ];
  refLines.forEach(line => {
    datasets.push({
      data: line, order: 1, clip: 0, showLine: true, pointRadius: 0,
      borderColor: refColor, borderWidth: 3, borderDash: [14, 9]
    });
  });
  new Chart(canvas, {
    type: "scatter",
    data: {datasets},
    options: {
      responsive: false,
      animation: false,
      layout: {padding: {top: 20, right: 8, left: 0, bottom: 0}},
      plugins: {legend: {display: false}, tooltip: {enabled: false}},
      scales: {
        x: {
          min: -xLimit, max: xLimit,
          afterBuildTicks: s => { s.ticks = xTicks.map(v => ({value: v})); },
          afterFit: s => { s.height = 42; },
          border: {display: true, color: "#000", width: axisWidth[i]},
          grid: {display: true, drawOnChartArea: false, drawTicks: true, tickLength: 6, tickWidth: 3, tickColor: "#333"},
          ticks: {
            autoSkip: false, maxRotation: 0, padding: 5, color: "#4d4d4d",
            font: {family: "Liberation Sans", size: 21},
            callback: v => tickText(v, 1)
          }
        },
        y: {
          min: -1, max: 1,
          afterBuildTicks: s => { s.ticks = yTicks.map(v => ({value: v})); },
          afterFit: s => { s.width = 92; },
          border: {display: true, color: "#000", width: axisWidth[i]},
          grid: {display: true, drawOnChartArea: false, drawTicks: true, tickLength: 6, tickWidth: 3, tickColor: "#333"},
          ticks: {
            autoSkip: false, padding: 5, color: "#4d4d4d",
            font: {family: "Liberation Sans", size: 21},
            callback: v => tickText(v, 1)
          }
        }
      }
    }
  });
}

function densityLines(list, flip) {
  return list.map((pts, g) => ({
    data: pts.map(p => flip ? {x: p[1], y: p[0]} : {x: p[0], y: p[1]}),
    order: 10 - g,
    clip: false,
    showLine: true,
    pointRadius: 0,
    tension: 0.25,
    borderColor: colors[g],
    borderWidth: 2.6
  }));
}

function hiddenScale(min, max) {
  return {min, max, display: false};
}

function drawTop(i) {
  const left = plotLeft[i], right = plotRight[i], top = plotTop[i];
  const pad = 4;
  const canvas = addCanvas(left, top - 50 - pad, right - left, 50 + pad * 2);
  const datasets = densityLines(topData[i], false);
  datasets.push({
    data: [{x: 0, y: 0}, {x: 0, y: 3.6}], order: 1, clip: false, showLine: true,
    pointRadius: 0, borderColor: refColor, borderWidth: 3, borderDash: [14, 9]
  });
  new Chart(canvas, {
    type: "scatter",
    data: {datasets},
    options: {
      responsive: false,
      animation: false,
      layout: {padding: {top: pad, bottom: pad, left: 0, right: 0}},
      plugins: {legend: {display: false}, tooltip: {enabled: false}},
      scales: {x: hiddenScale(-xLimit, xLimit), y: hiddenScale(0, 5)}
    }
  });
}

function drawRight(i) {
  const right = plotRight[i], top = plotTop[i], bottom = plotBottom[i];
  const pad = 4;
  const canvas = addCanvas(right - pad, top, 50 + pad * 2, bottom - top);
  const datasets = densityLines(rightData[i], true);
  datasets.push({
    data: [{x: 0, y: 0}, {x: hLineEnd[i], y: 0}], order: 1, clip: false, showLine: true,
    pointRadius: 0, borderColor: refColor, borderWidth: 3, borderDash: [14, 9]
  });
  new Chart(canvas, {
    type: "scatter",
    data: {datasets},
    options: {
      responsive: false,
      animation: false,
      layout: {padding: {top: 0, bottom: 0, left: pad, right: pad}},
      plugins: {legend: {display: false}, tooltip: {enabled: false}},
      scales: {x: hiddenScale(0, 5), y: hiddenScale(-1, 1)}
    }
  });
}

for (let i = 0; i < 6; i++) {
  drawScatter(i);
  drawTop(i);
  drawRight(i);
  addLabel(letters[i], letterAt[i][0], letterAt[i][1], 29);
  addLabel(xTitles[i], xTitleAt[i][0], xTitleAt[i][1], 21.5, "translate(-50%,-50%)");
  addLabel(yTitles[i], yTitleAt[i][0], yTitleAt[i][1], 21.5, "translate(-50%,-50%) rotate(-90deg)");
}

// legend
const legendDotX = [109, 109, 109, 329, 329, 329];
const legendTextX = [141, 141, 141, 363, 363, 363];
const legendY = [981, 1031, 1082, 981, 1031, 1082];
groups.forEach((name, g) => {
  const dot = document.createElement("div");
  dot.className = "dot";
  dot.style.left = (legendDotX[g] - 5) + "px";
  dot.style.top = (legendY[g] - 5) + "px";
  dot.style.width = "10px";
  dot.style.height = "10px";
  if (g === 0) dot.style.border = "2px solid " + colors[0];
  else dot.style.background = colors[g];
  page.appendChild(dot);
  addLabel(name, legendTextX[g], legendY[g], 20.5, "translateY(-50%)");
});
</script>
</body>
</html>
